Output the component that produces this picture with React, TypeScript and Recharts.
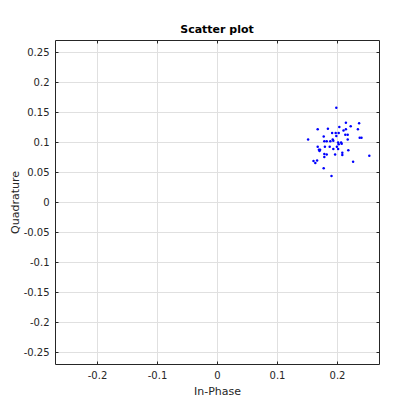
import React from 'react';
import {
  ScatterChart,
  Scatter,
  XAxis,
  YAxis,
  CartesianGrid,
  ReferenceLine,
} from 'recharts';

const inPhase = [
  0.198, 0.214, 0.236, 0.222, 0.203, 0.167, 0.184, 0.214, 0.21, 0.234,
  0.191, 0.197, 0.202, 0.213, 0.217, 0.198, 0.177, 0.237, 0.24, 0.151,
  0.217, 0.192, 0.178, 0.182, 0.188, 0.193, 0.201, 0.206, 0.207, 0.202,
  0.179, 0.187, 0.167, 0.199, 0.169, 0.193, 0.201, 0.17, 0.171, 0.218,
  0.208, 0.178, 0.182, 0.196, 0.208, 0.253, 0.178, 0.226, 0.16, 0.163,
  0.166, 0.177, 0.19,
];
const quadrature = [
  0.158, 0.133, 0.132, 0.127, 0.126, 0.122, 0.123, 0.122, 0.12, 0.122,
  0.116, 0.116, 0.116, 0.113, 0.113, 0.111, 0.11, 0.108, 0.108, 0.105,
  0.105, 0.105, 0.102, 0.102, 0.102, 0.103, 0.1, 0.1, 0.098, 0.097,
  0.093, 0.093, 0.093, 0.093, 0.088, 0.089, 0.089, 0.086, 0.088, 0.087,
  0.083, 0.081, 0.08, 0.08, 0.079, 0.078, 0.076, 0.068, 0.069, 0.066,
  0.07, 0.057, 0.044,
];
const xTicks = [-0.2, -0.1, 0, 0.1, 0.2];
const yTicks = [-0.25, -0.2, -0.15, -0.1, -0.05, 0, 0.05, 0.1, 0.15, 0.2, 0.25];
const axisMax = 0.27;

const data = inPhase.map((x, i) => ({ x, y: quadrature[i] }));

const W = 420;
const H = 420;
const LEFT = 55;
const RIGHT = 379;
const TOP = 40;
const BOTTOM = 364;
const INK = '#262626';
const FONT = '"DejaVu Sans", sans-serif';

const fmt = (v: number) => (Math.abs(v) < 1e-9 ? '0' : String(v));

const XTick = (props: any) => {
  const { x, payload } = props;
  return (
    <g>
      <line x1={x} y1={BOTTOM} x2={x} y2={BOTTOM - 3} stroke={INK} />
      <line x1={x} y1={TOP} x2={x} y2={TOP + 3} stroke={INK} />
      <text x={x} y={BOTTOM + 14} textAnchor="middle" fontSize={10} fill={INK} fontFamily={FONT}>
        {fmt(payload.value)}
      </text>
    </g>
  );
};

const YTick = (props: any) => {
  const { y, payload } = props;
  return (
    <g>
      <line x1={LEFT} y1={y} x2={LEFT + 3} y2={y} stroke={INK} />
      <line x1={RIGHT} y1={y} x2={RIGHT - 3} y2={y} stroke={INK} />
      <text x={LEFT - 6} y={y + 3.5} textAnchor="end" fontSize={10} fill={INK} fontFamily={FONT}>
        {fmt(payload.value)}
      </text>
    </g>
  );
};

const Dot = (props: any) => (
  <circle cx={props.cx} cy={props.cy} r={1.25} fill="#0000ff" />
);

const App: React.FC = () => {
  return (
    <div style={{ position: 'absolute', left: 0, top: 0, width: W, height: H, background: '#fff' }}>
      <div
        style={{
          position: 'absolute',
          left: LEFT,
          width: RIGHT - LEFT,
          top: 23,
          textAlign: 'center',
          fontFamily: FONT,
          fontWeight: 'bold',
          fontSize: 11,
          color: '#000',
        }}
      >
        Scatter plot
      </div>
      <div style={{ position: 'absolute', left: 0, top: 0, transform: 'translate(0.5px, 0.5px)' }}>
        <ScatterChart
          width={W}
          height={H}
          margin={{ top: TOP, right: W - RIGHT, bottom: 0, left: 0 }}
        >
          <CartesianGrid stroke="#e0e0e0" horizontalValues={yTicks} verticalValues={xTicks} />
          <XAxis
            type="number"
            dataKey="x"
            domain={[-axisMax, axisMax]}
            ticks={xTicks}
            height={H - BOTTOM}
            tick={<XTick />}
            tickLine={false}
            axisLine={{ stroke: INK }}
            allowDataOverflow
            label={{ value: 'In-Phase', position: 'insideBottom', offset: 26, fontSize: 11, fontFamily: FONT, style: { fill: INK } }}
          />
          <YAxis
            type="number"
            dataKey="y"
            domain={[-axisMax, axisMax]}
            ticks={yTicks}
            width={LEFT}
            tick={<YTick />}
            tickLine={false}
            axisLine={{ stroke: INK }}
            allowDataOverflow
            label={{ value: 'Quadrature', angle: -90, position: 'insideLeft', offset: 15, fontSize: 11, fontFamily: FONT, style: { textAnchor: 'middle', fill: INK } }}
          />
          <ReferenceLine y={axisMax} stroke={INK} />
          <ReferenceLine x={axisMax} stroke={INK} />
          <Scatter data={data} shape={<Dot />} isAnimationActive={false} />
        </ScatterChart>
      </div>
    </div>
  );
};

export default App;
